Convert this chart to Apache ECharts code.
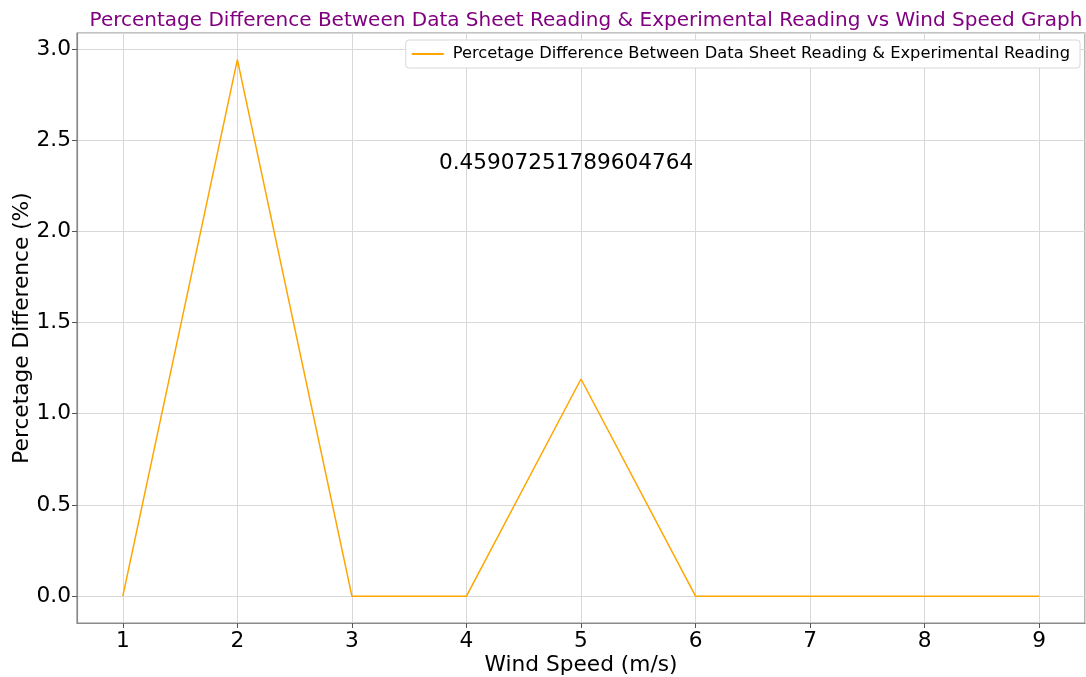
<!DOCTYPE html>
<html>
<head>
<meta charset="utf-8">
<script src="https://cdn.jsdelivr.net/npm/echarts@6/dist/echarts.min.js"></script>
<style>html,body{margin:0;padding:0;background:#fff}#c{width:1086px;height:677px}</style>
</head>
<body>
<div id="c"></div>
<script>
const windSpeed = [1, 2, 3, 4, 5, 6, 7, 8, 9];
const percentDiff = [0, 2.9411764705882355, 0, 0, 1.1904761904761905, 0, 0, 0, 0];
const meanText = '0.45907251789604764';
const meanPos = [3.76, 2.375];

const font = 'DejaVu Sans';
const chart = echarts.init(document.getElementById('c'), null, {renderer: 'canvas'});
const axisCommon = {
  axisLine: {show: true, onZero: false, lineStyle: {color: '#8a8a8a', width: 1.2}},
  axisTick: {show: true, inside: false, length: 5, lineStyle: {color: '#555', width: 1}},
  splitLine: {show: true, lineStyle: {color: '#d8d8d8', width: 1}},
  nameMoveOverlap: false,
};
chart.setOption({
  animation: false,
  backgroundColor: '#fff',
  title: {
    text: 'Percentage Difference Between Data Sheet Reading & Experimental Reading vs Wind Speed Graph',
    left: 581, top: 6, textAlign: 'center',
    textStyle: {color: '#800080', fontFamily: font, fontSize: 20, fontWeight: 'normal'}
  },
  legend: {
    right: 6, top: 40,
    padding: [6, 10, 6, 6],
    itemWidth: 32, itemHeight: 2, itemGap: 10,
    backgroundColor: '#fff', borderColor: '#d8d8d8', borderWidth: 1, borderRadius: 3,
    icon: 'rect',
    textStyle: {fontFamily: font, fontSize: 16.3, color: '#000', padding: [0, 0, 0, 4]},
    data: ['Percetage Difference Between Data Sheet Reading & Experimental Reading']
  },
  grid: {left: 77, right: 1, top: 33, bottom: 54, show: true, borderColor: '#8a8a8a', borderWidth: 1.2,
    outerBoundsMode: 'none', containLabel: false},
  xAxis: Object.assign({}, axisCommon, {
    type: 'value', min: 0.6, max: 9.4, splitNumber: 9,
    name: 'Wind Speed (m/s)', nameLocation: 'middle', nameGap: 31,
    nameTextStyle: {fontFamily: font, fontSize: 21.7, color: '#000'},
    axisLabel: {showMinLabel: false, showMaxLabel: false, fontFamily: font, fontSize: 21.7, color: '#000', margin: 7,
      formatter: v => String(Math.round(v))}
  }),
  yAxis: Object.assign({}, axisCommon, {
    type: 'value', min: -0.147, max: 3.087, splitNumber: 6,
    name: 'Percetage Difference (%)', nameLocation: 'middle', nameGap: 44,
    nameTextStyle: {fontFamily: font, fontSize: 21.7, color: '#000'},
    axisLabel: {showMinLabel: false, showMaxLabel: false, fontFamily: font, fontSize: 21.7, color: '#000', margin: 6,
      formatter: v => v.toFixed(1)}
  }),
  series: [{
    name: 'Percetage Difference Between Data Sheet Reading & Experimental Reading',
    type: 'line',
    data: windSpeed.map((x, i) => [x, percentDiff[i]]),
    showSymbol: false, symbol: 'none',
    color: '#FFA500',
    lineStyle: {color: '#FFA500', width: 1.5}
  }]
});
const p = chart.convertToPixel({gridIndex: 0}, meanPos);
chart.setOption({
  graphic: [{
    type: 'text', x: p[0], y: p[1],
    style: {text: meanText, fontFamily: font, fontSize: 21.6, fill: '#000', align: 'left', verticalAlign: 'middle'}
  }]
});
</script>
</body>
</html>
